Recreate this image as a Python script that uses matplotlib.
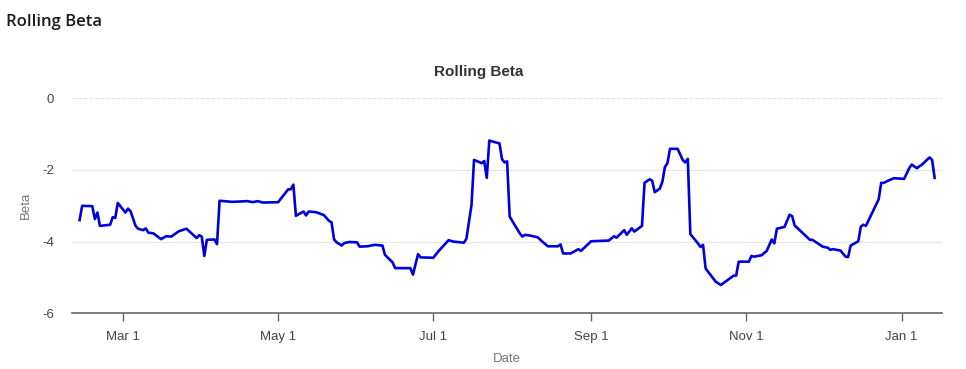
import matplotlib
matplotlib.use("Agg")
import matplotlib.pyplot as plt
import pandas as pd

dates = [
    "2023-02-12", "2023-02-13", "2023-02-17", "2023-02-18", "2023-02-19", "2023-02-20",
    "2023-02-24", "2023-02-25", "2023-02-26", "2023-02-27", "2023-03-02", "2023-03-03",
    "2023-03-04", "2023-03-06", "2023-03-07", "2023-03-09", "2023-03-10", "2023-03-11",
    "2023-03-13", "2023-03-16", "2023-03-18", "2023-03-20", "2023-03-23", "2023-03-26",
    "2023-03-28", "2023-03-30", "2023-03-31", "2023-04-01", "2023-04-02", "2023-04-03",
    "2023-04-06", "2023-04-07", "2023-04-08", "2023-04-13", "2023-04-19", "2023-04-21",
    "2023-04-23", "2023-04-25", "2023-05-01", "2023-05-05", "2023-05-06", "2023-05-07",
    "2023-05-08", "2023-05-11", "2023-05-12", "2023-05-13", "2023-05-16", "2023-05-19",
    "2023-05-21", "2023-05-22", "2023-05-23", "2023-05-24", "2023-05-26", "2023-05-27",
    "2023-05-29", "2023-06-01", "2023-06-02", "2023-06-05", "2023-06-08", "2023-06-11",
    "2023-06-12", "2023-06-15", "2023-06-16", "2023-06-22", "2023-06-23", "2023-06-25",
    "2023-06-26", "2023-07-01", "2023-07-03", "2023-07-07", "2023-07-09", "2023-07-13",
    "2023-07-14", "2023-07-16", "2023-07-17", "2023-07-20", "2023-07-21", "2023-07-22",
    "2023-07-23", "2023-07-27", "2023-07-28", "2023-07-29", "2023-07-30", "2023-07-31",
    "2023-08-02", "2023-08-04", "2023-08-05", "2023-08-06", "2023-08-08", "2023-08-11",
    "2023-08-13", "2023-08-15", "2023-08-19", "2023-08-20", "2023-08-21", "2023-08-24",
    "2023-08-27", "2023-08-28", "2023-09-01", "2023-09-08", "2023-09-10", "2023-09-11",
    "2023-09-14", "2023-09-15", "2023-09-17", "2023-09-18", "2023-09-21", "2023-09-22",
    "2023-09-24", "2023-09-25", "2023-09-26", "2023-09-28", "2023-09-29", "2023-09-30",
    "2023-10-01", "2023-10-02", "2023-10-05", "2023-10-07", "2023-10-08", "2023-10-09",
    "2023-10-10", "2023-10-13", "2023-10-14", "2023-10-15", "2023-10-16", "2023-10-20",
    "2023-10-22", "2023-10-27", "2023-10-28", "2023-10-29", "2023-11-02", "2023-11-03",
    "2023-11-04", "2023-11-07", "2023-11-09", "2023-11-11", "2023-11-12", "2023-11-13",
    "2023-11-16", "2023-11-18", "2023-11-19", "2023-11-20", "2023-11-23", "2023-11-26",
    "2023-11-27", "2023-12-01", "2023-12-03", "2023-12-04", "2023-12-05", "2023-12-08",
    "2023-12-10", "2023-12-11", "2023-12-12", "2023-12-15", "2023-12-16", "2023-12-17",
    "2023-12-18", "2023-12-23", "2023-12-24", "2023-12-25", "2023-12-27", "2023-12-29",
    "2024-01-02", "2024-01-04", "2024-01-05", "2024-01-07", "2024-01-09", "2024-01-12",
    "2024-01-13", "2024-01-14",
]

beta = [
    -3.40, -3.00, -3.01, -3.37, -3.19, -3.56,
    -3.53, -3.32, -3.34, -2.92, -3.19, -3.08,
    -3.15, -3.56, -3.64, -3.68, -3.63, -3.75,
    -3.77, -3.93, -3.85, -3.86, -3.71, -3.64,
    -3.77, -3.90, -3.82, -3.86, -4.40, -3.95,
    -3.94, -4.07, -2.86, -2.89, -2.87, -2.90,
    -2.87, -2.91, -2.90, -2.54, -2.54, -2.41,
    -3.28, -3.16, -3.27, -3.16, -3.18, -3.26,
    -3.42, -3.46, -3.94, -4.02, -4.11, -4.04,
    -4.01, -4.02, -4.14, -4.13, -4.09, -4.11,
    -4.37, -4.58, -4.74, -4.74, -4.92, -4.35,
    -4.44, -4.45, -4.27, -3.96, -4.00, -4.03,
    -3.92, -2.98, -1.72, -1.81, -1.75, -2.22,
    -1.18, -1.26, -1.70, -1.79, -1.76, -3.30,
    -3.54, -3.77, -3.86, -3.81, -3.83, -3.88,
    -4.01, -4.13, -4.13, -4.08, -4.33, -4.33,
    -4.21, -4.26, -3.99, -3.97, -3.85, -3.89,
    -3.68, -3.81, -3.63, -3.72, -3.56, -2.36,
    -2.26, -2.30, -2.62, -2.52, -2.33, -1.92,
    -1.81, -1.41, -1.41, -1.72, -1.79, -1.69,
    -3.79, -4.05, -4.15, -4.09, -4.75, -5.12,
    -5.21, -4.95, -4.95, -4.56, -4.56, -4.40,
    -4.42, -4.38, -4.26, -3.94, -4.05, -3.64,
    -3.59, -3.25, -3.29, -3.55, -3.75, -3.95,
    -3.95, -4.14, -4.17, -4.23, -4.21, -4.25,
    -4.42, -4.43, -4.11, -3.99, -3.58, -3.53,
    -3.56, -2.82, -2.36, -2.36, -2.29, -2.23,
    -2.25, -1.95, -1.85, -1.95, -1.85, -1.65,
    -1.72, -2.22,
]

x_ticks = ["2023-03-01", "2023-05-01", "2023-07-01", "2023-09-01", "2023-11-01", "2024-01-01"]
x_tick_labels = ["Mar 1", "May 1", "Jul 1", "Sep 1", "Nov 1", "Jan 1"]
y_ticks = [0, -2, -4, -6]
y_tick_labels = ["0", "-2", "-4", "-6"]

plt.rcParams["font.family"] = ["Liberation Sans", "DejaVu Sans"]

fig = plt.figure(figsize=(9.66, 3.69), dpi=100)
ax = fig.add_axes([0.0745, 0.151, 0.9005, 0.5826])

d = pd.to_datetime(dates)
ax.plot(d, beta, color="#0000DD", lw=1.9, solid_joinstyle="round", zorder=3)

ax.set_xlim(pd.Timestamp("2023-02-09"), pd.Timestamp("2024-01-16 20:00"))
ax.set_ylim(-6, 0)

ax.set_xticks(pd.to_datetime(x_ticks))
ax.set_xticklabels(x_tick_labels)
ax.set_yticks(y_ticks)
ax.set_yticklabels(y_tick_labels)

for s in ["top", "right", "left"]:
    ax.spines[s].set_visible(False)
ax.spines["bottom"].set_color("#666666")
ax.spines["bottom"].set_linewidth(1.2)
ax.tick_params(axis="x", length=6, width=1, color="#666666", labelsize=9.5,
               labelcolor="#444444", pad=7)
ax.tick_params(axis="y", length=0, labelsize=9.5, labelcolor="#444444", pad=13)

for yv in [-2, -4]:
    ax.axhline(yv, color="#e6e6e6", lw=1, zorder=1)
ax.axhline(0, color="#e3e3e3", lw=1, ls=(0, (3, 1)), zorder=1)

ax.set_xlabel("Date", color="#777777", fontsize=9.5, labelpad=7)
ax.set_ylabel("Beta", color="#777777", fontsize=9.5, labelpad=7)

fig.text(0.496, 0.805, "Rolling Beta", ha="center", va="center", fontsize=11,
         fontweight="bold", color="#333333")
fig.text(0.006, 0.94, "Rolling Beta", ha="left", va="center", fontsize=12,
         fontweight="semibold", color="#1a1a1a",
         family=["Open Sans", "DejaVu Sans"])

fig.savefig("out.png", dpi=100)
